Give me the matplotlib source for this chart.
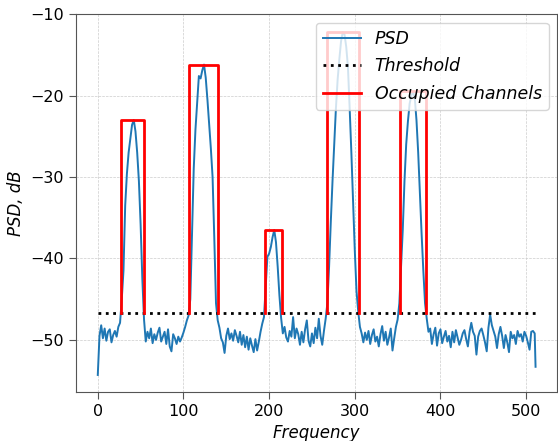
import numpy as np
import matplotlib
matplotlib.use('Agg')
import matplotlib.pyplot as plt

# PSD sampled every 2nd bin (0, 2, ..., 510) plus the last bin 511
psd = [
    -54.3, -49.5, -48.2, -49.8, -48.6, -50.1, -49.0, -48.7, -50.3, -49.4, -48.9, -49.6, -48.4, -47.9, -45.0, -41.5,
    -33.5, -29.6, -27.0, -25.3, -23.6, -23.0, -24.4, -27.0, -30.5, -35.8, -42.5, -47.5, -50.2, -49.0, -49.8, -48.6,
    -50.4, -49.3, -50.0, -49.1, -48.5, -50.2, -49.6, -49.0, -50.5, -48.7, -50.8, -51.4, -49.3, -49.8, -50.5, -49.6,
    -50.2, -49.7, -49.1, -48.4, -47.6, -47.0, -45.0, -37.0, -29.0, -24.2, -21.0, -17.6, -17.9, -16.9, -16.2, -17.8,
    -20.5, -23.5, -26.5, -30.0, -37.5, -45.5, -47.6, -48.5, -49.8, -50.3, -51.6, -49.5, -48.6, -49.9, -49.2, -50.1,
    -48.8, -49.5, -50.3, -49.0, -50.6, -49.4, -50.9, -49.6, -51.2, -49.8, -50.7, -51.5, -49.9, -51.3, -50.2, -49.0,
    -48.0, -47.2, -43.5, -39.8, -39.4, -38.6, -37.4, -36.5, -38.0, -41.0, -44.5, -47.3, -49.2, -48.4, -49.7, -50.2,
    -48.9, -49.6, -47.2, -49.8, -48.6, -49.3, -50.6, -49.0, -50.3, -48.7, -47.6, -50.1, -50.8, -49.2, -50.4, -48.5,
    -49.8, -47.4, -49.5, -50.6, -48.9, -47.4, -45.5, -41.0, -35.5, -30.5, -26.0, -21.5, -18.0, -15.5, -13.3, -12.2,
    -12.5, -14.0, -16.5, -21.5, -27.0, -33.0, -39.0, -44.0, -46.5, -48.4, -49.2, -50.3, -49.1, -50.0, -48.9, -50.5,
    -49.4, -48.7, -50.2, -49.6, -50.8, -49.3, -48.3, -50.1, -49.0, -50.6, -49.7, -48.6, -51.3, -49.8, -48.4, -47.5,
    -45.5, -41.0, -36.5, -30.5, -26.0, -23.2, -21.0, -20.0, -19.5, -20.3, -23.0, -27.0, -32.0, -37.0, -41.5, -45.5,
    -47.4, -49.0, -48.6, -50.5, -49.3, -48.5, -50.7, -49.2, -48.7, -50.4, -49.6, -48.9, -50.2, -49.5, -50.9, -49.0,
    -50.3, -48.8, -49.7, -50.6, -50.0, -49.2, -48.8, -49.9, -50.8, -49.0, -47.9, -49.0, -49.5, -51.8, -49.6, -48.9,
    -48.6, -49.4, -50.3, -51.4, -48.5, -46.9, -48.2, -48.9, -49.6, -51.0, -49.3, -48.4, -49.5, -51.0, -49.4, -50.3,
    -51.5, -49.0, -49.8, -49.4, -50.5, -48.9, -49.6, -49.3, -50.2, -49.0, -49.5, -50.3, -51.2, -49.0, -48.9, -49.2,
    -53.3,
]
freq = np.append(np.arange(0, 511, 2), 511)

threshold = -46.7
ch_start = [27, 107, 195, 268, 353]
ch_stop = [54, 140, 215, 305, 383]

psd = np.array(psd)

fig = plt.figure(figsize=(5.58, 4.41), dpi=100)
ax = fig.add_axes([0.136, 0.111, 0.863, 0.857])

ax.plot(freq, psd, color='C0', lw=1.4, label='PSD')
ax.plot([0, 511], [threshold, threshold], 'k:', lw=2, label='Threshold')
for i, (a, b) in enumerate(zip(ch_start, ch_stop)):
    top = psd[(freq >= a) & (freq <= b)].max()
    ax.plot([a, a, b, b], [threshold, top, top, threshold], color='red', lw=2,
            label='Occupied Channels' if i == 0 else None)

ax.set_ylim(-56.4, -10)
ax.set_yticks([-50, -40, -30, -20, -10])
ax.set_xticks([0, 100, 200, 300, 400, 500])
ax.grid(ls='--', lw=0.5, color='#cccccc')
ax.set_xlabel('Frequency', fontsize=12, style='italic')
ax.set_ylabel('PSD, dB', fontsize=12, style='italic')
ax.tick_params(labelsize=11.5, color='#555555', length=5)
for s in ax.spines.values():
    s.set_color('#555555')
ax.legend(loc='upper right', prop={'style': 'italic', 'size': 12.5},
          labelspacing=0.55, handlelength=2.2)

fig.savefig('out.png', dpi=100)
